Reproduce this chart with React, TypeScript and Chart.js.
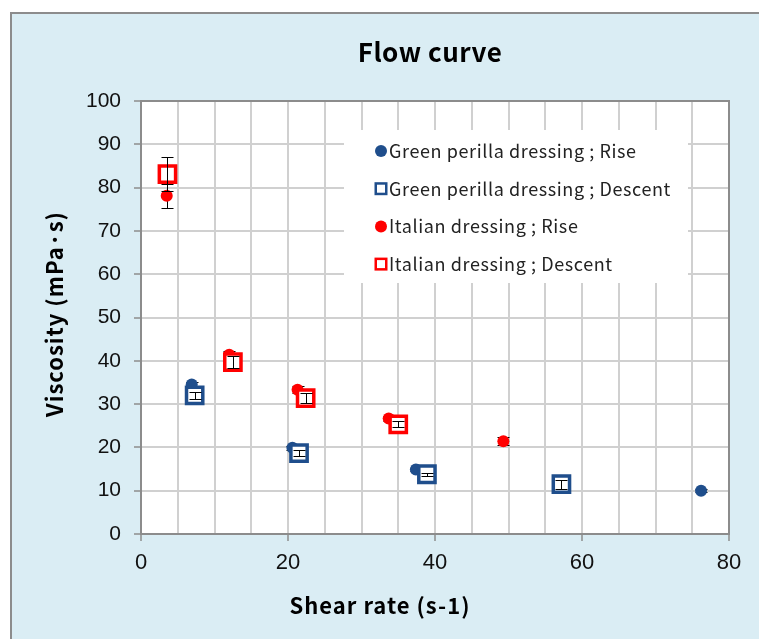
import { useEffect, useRef } from 'react';
import { Chart, registerables } from 'chart.js';
Chart.register(...registerables);

const CHART_TITLE = 'Flow curve';
const X_TITLE = 'Shear rate (s-1)';
const Y_TITLE = 'Viscosity (mPa·s)';
const SERIES_NAMES = [
  'Green perilla dressing ; Rise',
  'Green perilla dressing ; Descent',
  'Italian dressing ; Rise',
  'Italian dressing ; Descent',
];
const GP_RISE_X = [6.9, 20.6, 37.4, 56.9, 76.2];
const GP_RISE_Y = [34.5, 19.9, 14.9, 11.7, 10.0];
const GP_RISE_ERR = [0.5, 0.5, 0.4, 0.5, 0.3];
const GP_DESC_X = [7.3, 21.5, 38.9, 57.2];
const GP_DESC_Y = [32.0, 18.7, 13.8, 11.5];
const GP_DESC_ERR = [0.8, 0.8, 0.3, 1.0];
const IT_RISE_X = [3.5, 12.0, 21.3, 33.7, 49.3];
const IT_RISE_Y = [78.1, 41.4, 33.3, 26.7, 21.4];
const IT_RISE_ERR = [2.7, 0.8, 0.8, 0.6, 0.9];
const IT_DESC_X = [3.6, 12.5, 22.4, 35.0];
const IT_DESC_Y = [83.1, 39.7, 31.4, 25.3];
const IT_DESC_ERR = [4.0, 1.4, 1.2, 0.7];
const X_LABELED_TICKS = [0, 20, 40, 60, 80];

const BLUE = '#1f4e8c';
const RED = '#ff0000';
const GRID = '#d0d0d0';
const AXIS = '#8c8c8c';
const JP = '"Noto Sans CJK JP", "Noto Sans", sans-serif';
const NUM = '"Liberation Sans", Arial, sans-serif';

const pts = (xs: number[], ys: number[]) => xs.map((x, i) => ({ x, y: ys[i] }));

const framePlugin = {
  id: 'frame',
  beforeDraw(chart: any) {
    const { ctx, width, height, chartArea: ca } = chart;
    ctx.save();
    ctx.fillStyle = '#ffffff';
    ctx.fillRect(0, 0, width, height);
    ctx.fillStyle = '#daedf4';
    ctx.fillRect(10, 12, width, height);
    ctx.strokeStyle = '#8c8c8c';
    ctx.lineWidth = 2;
    ctx.beginPath();
    ctx.moveTo(11, height + 5);
    ctx.lineTo(11, 13);
    ctx.lineTo(width + 5, 13);
    ctx.stroke();
    ctx.fillStyle = '#ffffff';
    ctx.fillRect(ca.left, ca.top, ca.right - ca.left, ca.bottom - ca.top);
    ctx.restore();
  },
  beforeDatasetsDraw(chart: any) {
    const { ctx, chartArea: ca } = chart;
    ctx.save();
    ctx.strokeStyle = AXIS;
    ctx.lineWidth = 2;
    ctx.beginPath();
    ctx.moveTo(ca.left, ca.top);
    ctx.lineTo(ca.right, ca.top);
    ctx.lineTo(ca.right, ca.bottom);
    ctx.stroke();
    ctx.restore();
  },
};

function drawErrors(chart: any, args: any) {
  const ds = chart.data.datasets[args.index];
  const errs: number[] | undefined = ds.errors;
  if (!errs) return;
  const ys = chart.scales.y;
  const ctx = chart.ctx;
  ctx.save();
  ctx.strokeStyle = '#000000';
  ctx.lineWidth = 1;
  args.meta.data.forEach((el: any, i: number) => {
    const v = ds.data[i].y;
    const x = Math.round(el.x) + 0.5;
    const t = Math.round(ys.getPixelForValue(v + errs[i])) + 0.5;
    const b = Math.round(ys.getPixelForValue(v - errs[i])) + 0.5;
    ctx.beginPath();
    ctx.moveTo(x, t);
    ctx.lineTo(x, b);
    ctx.moveTo(x - 6, t);
    ctx.lineTo(x + 6, t);
    ctx.moveTo(x - 6, b);
    ctx.lineTo(x + 6, b);
    ctx.stroke();
  });
  ctx.restore();
}

const errorBarPlugin = {
  id: 'errbars',
  beforeDatasetDraw(chart: any, args: any) {
    if (chart.data.datasets[args.index].pointStyle === 'circle') drawErrors(chart, args);
  },
  afterDatasetDraw(chart: any, args: any) {
    if (chart.data.datasets[args.index].pointStyle !== 'circle') drawErrors(chart, args);
  },
};

const legendPlugin = {
  id: 'inlegend',
  afterDatasetsDraw(chart: any) {
    const { ctx, chartArea: ca } = chart;
    const bx = ca.left + 203;
    const by = ca.top + 29;
    ctx.save();
    ctx.fillStyle = '#ffffff';
    ctx.fillRect(bx, by, 344, 153);
    chart.data.datasets.forEach((ds: any, i: number) => {
      const cy = by + 21 + i * 37.7;
      const mx = bx + 37;
      if (ds.pointStyle === 'circle') {
        ctx.fillStyle = ds.backgroundColor;
        ctx.beginPath();
        ctx.arc(mx, cy, 6, 0, Math.PI * 2);
        ctx.fill();
      } else {
        ctx.fillStyle = '#ffffff';
        ctx.strokeStyle = ds.borderColor;
        ctx.lineWidth = 2.5;
        ctx.fillRect(mx - 5.25, cy - 5.25, 10.5, 10.5);
        ctx.strokeRect(mx - 5.25, cy - 5.25, 10.5, 10.5);
      }
      ctx.fillStyle = '#222222';
      ctx.font = `18px ${JP}`;
      (ctx as any).letterSpacing = '0.6px';
      ctx.textAlign = 'left';
      ctx.textBaseline = 'middle';
      ctx.fillText(ds.label, bx + 45, cy);
    });
    ctx.restore();
  },
};

const titlesPlugin = {
  id: 'titles',
  afterDraw(chart: any) {
    const { ctx } = chart;
    ctx.save();
    ctx.fillStyle = '#000000';
    ctx.textAlign = 'center';
    ctx.textBaseline = 'middle';
    (ctx as any).letterSpacing = '0.5px';
    ctx.font = `bold 26px ${JP}`;
    ctx.fillText(CHART_TITLE, 430, 52);
    (ctx as any).letterSpacing = '1px';
    ctx.font = `bold 22px ${JP}`;
    ctx.fillText(X_TITLE, 380, 606);
    ctx.translate(55, 314);
    ctx.rotate(-Math.PI / 2);
    ctx.fillText(Y_TITLE, 0, 0);
    ctx.restore();
  },
};

export default function App() {
  const ref = useRef<HTMLCanvasElement>(null);
  useEffect(() => {
    if (!ref.current) return;
    const chart = new Chart(ref.current, {
      type: 'scatter',
      data: {
        datasets: [
          {
            label: SERIES_NAMES[0],
            data: pts(GP_RISE_X, GP_RISE_Y),
            errors: GP_RISE_ERR,
            pointStyle: 'circle',
            pointRadius: 6,
            backgroundColor: BLUE,
            borderColor: BLUE,
            borderWidth: 0,
            order: 4,
          },
          {
            label: SERIES_NAMES[1],
            data: pts(GP_DESC_X, GP_DESC_Y),
            errors: GP_DESC_ERR,
            pointStyle: 'rect',
            pointRadius: 11.5,
            backgroundColor: '#ffffff',
            borderColor: BLUE,
            borderWidth: 3.5,
            order: 3,
          },
          {
            label: SERIES_NAMES[2],
            data: pts(IT_RISE_X, IT_RISE_Y),
            errors: IT_RISE_ERR,
            pointStyle: 'circle',
            pointRadius: 6,
            backgroundColor: RED,
            borderColor: RED,
            borderWidth: 0,
            order: 2,
          },
          {
            label: SERIES_NAMES[3],
            data: pts(IT_DESC_X, IT_DESC_Y),
            errors: IT_DESC_ERR,
            pointStyle: 'rect',
            pointRadius: 11.5,
            backgroundColor: '#ffffff',
            borderColor: RED,
            borderWidth: 3.5,
            order: 1,
          },
        ] as any,
      },
      options: {
        responsive: false,
        animation: false,
        events: [],
        layout: { padding: { top: 101, right: 30, left: 0, bottom: 0 } },
        plugins: { legend: { display: false }, tooltip: { enabled: false }, title: { display: false } },
        scales: {
          x: {
            type: 'linear',
            min: 0,
            max: 80,
            afterFit: (s: any) => { s.height = 105; },
            ticks: {
              stepSize: 5,
              autoSkip: false,
              maxRotation: 0,
              padding: 9,
              color: '#111111',
              font: { family: NUM, size: 22 },
              callback: (v: any) => (X_LABELED_TICKS.includes(Number(v)) ? String(v) : ''),
            },
            grid: {
              color: GRID,
              lineWidth: 2,
              tickLength: 7,
              tickWidth: 1.5,
              tickColor: (c: any) => (c.tick && X_LABELED_TICKS.includes(c.tick.value) ? AXIS : 'rgba(0,0,0,0)'),
            },
            border: { color: AXIS, width: 2 },
          },
          y: {
            type: 'linear',
            min: 0,
            max: 100,
            afterFit: (s: any) => { s.width = 141; },
            ticks: {
              stepSize: 10,
              padding: 13,
              color: '#111111',
              font: { family: NUM, size: 21 },
            },
            grid: { color: GRID, lineWidth: 2, tickLength: 7, tickWidth: 1.5, tickColor: AXIS },
            border: { color: AXIS, width: 2 },
          },
        },
      } as any,
      plugins: [framePlugin, errorBarPlugin, legendPlugin, titlesPlugin],
    });
    return () => chart.destroy();
  }, []);
  return (
    <div style={{ position: 'absolute', left: 0, top: 0, width: 759, height: 639, overflow: 'hidden' }}>
      <canvas ref={ref} width={759} height={639} style={{ display: 'block' }} />
    </div>
  );
}
